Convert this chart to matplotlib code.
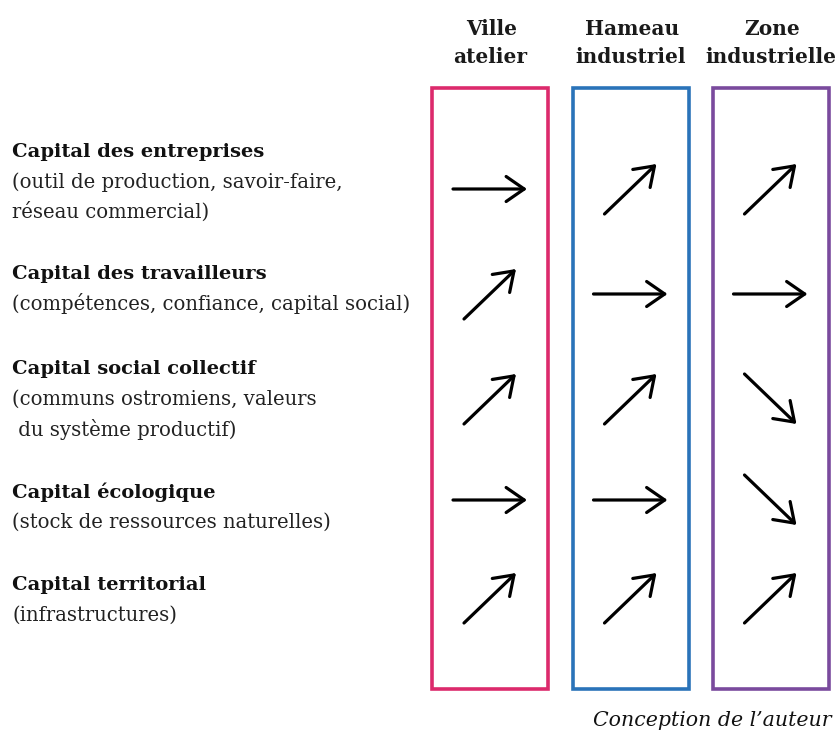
import matplotlib.pyplot as plt
from matplotlib.patches import Rectangle

# column headers and box colours
headers = ["Ville\natelier", "Hameau\nindustriel", "Zone\nindustrielle"]
box_colors = ["#DC2A6C", "#2A73B9", "#7A4A9D"]

# row labels
titles = [
    "Capital des entreprises",
    "Capital des travailleurs",
    "Capital social collectif",
    "Capital écologique",
    "Capital territorial",
]
details = [
    ["(outil de production, savoir-faire,", "réseau commercial)"],
    ["(compétences, confiance, capital social)"],
    ["(communs ostromiens, valeurs", " du système productif)"],
    ["(stock de ressources naturelles)"],
    ["(infrastructures)"],
]

# trend per capital: 1 = hausse, 0 = stable, -1 = baisse
ville_atelier = [0, 1, 1, 0, 1]
hameau_industriel = [1, 0, 1, 0, 1]
zone_industrielle = [1, 0, -1, -1, 1]
trends = [ville_atelier, hameau_industriel, zone_industrielle]

W, H = 838, 733
fig = plt.figure(figsize=(W / 100, H / 100), dpi=100)
ax = fig.add_axes([0, 0, 1, 1])
ax.set_xlim(0, W)
ax.set_ylim(H, 0)
ax.axis("off")

serif = "DejaVu Serif"

# layout (pixels)
col_x = [490, 630.5, 770.5]
box_w, box_top, box_bot = 116, 88, 689
row_y = [189, 294, 399, 500, 598]
title_y = [152, 274, 369, 492, 585]
line_h = 30

for cx, head, col in zip(col_x, headers, box_colors):
    ax.add_patch(Rectangle((cx - box_w / 2, box_top), box_w, box_bot - box_top,
                           fill=False, edgecolor=col, lw=2.6))
    top, bottom = head.split("\n")
    ax.text(cx + 2, 29, top, ha="center", va="center", fontsize=14.5,
            fontweight="bold", family=serif, color="#1a1a1a")
    ax.text(cx, 57, bottom, ha="center", va="center", fontsize=14.5,
            fontweight="bold", family=serif, color="#1a1a1a")

for ty, t, d in zip(title_y, titles, details):
    ax.text(12, ty, t, ha="left", va="center", fontsize=14,
            fontweight="bold", family=serif, color="#111111")
    for i, line in enumerate(d):
        ax.text(12, ty + line_h * (i + 1), line, ha="left", va="center",
                fontsize=14.1, family=serif, color="#222222")

# arrows
for cx, col_trend in zip(col_x, trends):
    for ry, tr in zip(row_y, col_trend):
        if tr == 0:
            start, end = (cx - 37, ry), (cx + 37, ry)
        else:
            start, end = (cx - 26, ry + 25 * tr), (cx + 26, ry - 25 * tr)
        ax.annotate("", xy=end, xytext=start,
                    arrowprops=dict(arrowstyle="->,head_length=0.65,head_width=0.45",
                                    mutation_scale=20, lw=2.3, color="black",
                                    shrinkA=0, shrinkB=0))

ax.text(831, 721, "Conception de l\u2019auteur", ha="right", va="center",
        fontsize=14.8, style="italic", family=serif, color="#111111")

fig.savefig("out.png", dpi=100, facecolor="white")
